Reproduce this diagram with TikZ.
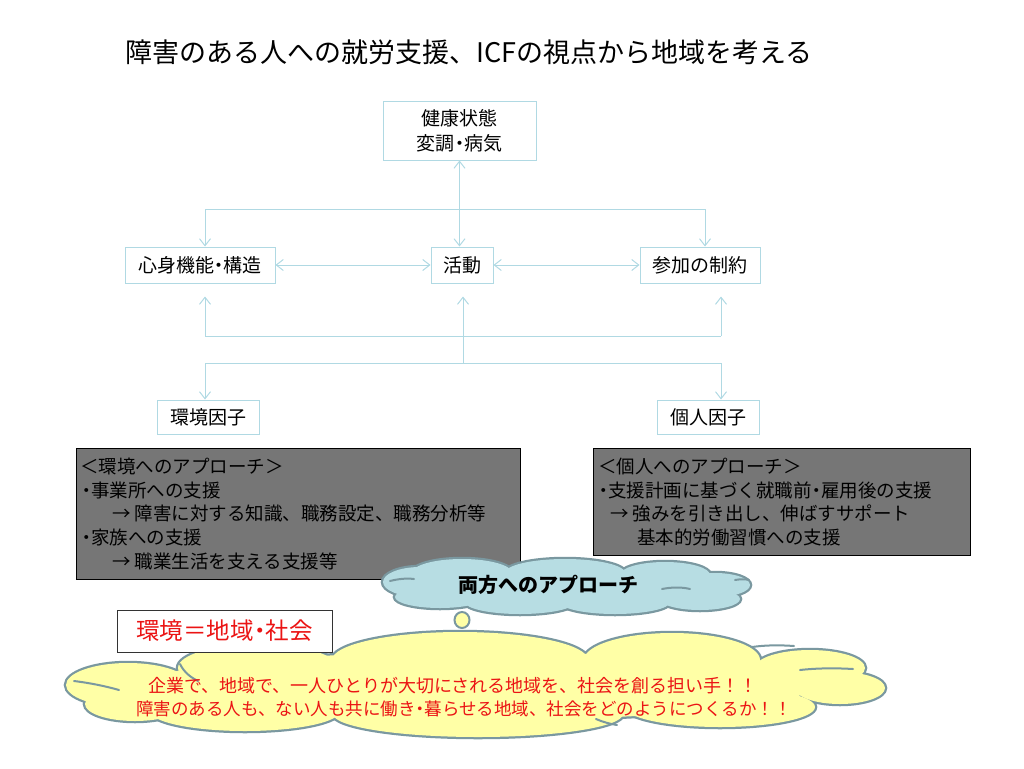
\documentclass[tikz,border=0pt]{standalone}
\usepackage{fontspec}
\setmainfont{Noto Sans CJK JP}
\usetikzlibrary{arrows.meta,shapes.geometric}
\definecolor{lb}{RGB}{176,217,227}
\definecolor{gfill}{RGB}{118,118,118}
\definecolor{cblue}{RGB}{183,221,227}
\definecolor{cline}{RGB}{122,152,160}
\definecolor{cyel}{RGB}{255,255,166}
\definecolor{myred}{RGB}{235,20,20}
\newcommand\nd{\makebox[0.5em]{・}}
\tikzset{
  icf/.style={draw=lb, line width=1pt, fill=white, inner sep=0pt, font=\fontsize{19}{25}\selectfont},
  conn/.style={draw=lb, line width=1pt},
  gbox/.style={draw=black, line width=1pt, fill=gfill, inner sep=0pt, anchor=north west},
  gtxt/.style={anchor=base west, inner sep=0pt, font=\fontsize{18.5}{22}\selectfont},
  lobeline/.style={draw=cline, line width=4.5pt},
  inarc/.style={draw=cline, line width=2pt, line cap=round},
  redtxt/.style={text=myred, inner sep=0pt},
}
\def\blobes{420/582/37/15, 462/573/50/14, 565/573/60/14, 665/575/45/13, 715/585/35/12, 700/599/40/11, 615/602/55/12, 520/602/55/12, 440/597/45/11, 565/588/160/16}
\def\ylobes{128/685/62/22, 258/668/80/24, 460/660/128/28, 672/660/88/27, 810/668/55/18, 840/688/45/16, 720/707/95/20, 478/714/145/23, 245/711/95/20, 135/704/50/17, 478/686/335/34}
\begin{document}
\begin{tikzpicture}[x=1pt,y=-1pt,>={Straight Barb[length=7pt,width=11pt]}]
\useasboundingbox (0,0) rectangle (1024,768);

% title
\node[font=\fontsize{27}{30}\selectfont] (title) at (469,52) {障害のある人への就労支援、ICFの視点から地域を考える};

% ICF boxes
\node[icf, minimum width=153pt, minimum height=59pt, align=center] (health) at (459.5,130.5) {健康状態\\変調\nd 病気};
\node[icf, minimum width=150pt, minimum height=36pt] (body) at (200,265) {心身機能\nd 構造};
\node[icf, minimum width=62pt, minimum height=36pt] (act) at (462,265) {活動};
\node[icf, minimum width=120pt, minimum height=36pt] (part) at (700,265) {参加の制約};
\node[icf, minimum width=102pt, minimum height=34pt] (env) at (208,417) {環境因子};
\node[icf, minimum width=102pt, minimum height=34pt] (pers) at (708,417) {個人因子};

% upper connectors
\coordinate (tl) at (205,209);
\coordinate (tr) at (705,209);
\draw[conn] (tl) -- (tr);
\draw[conn,->] (tl) -- (tl |- body.north);
\draw[conn,->] (tr) -- (tr |- part.north);
\draw[conn,<->] (health.south) -- (health.south |- act.north);
\draw[conn,<->] (body.east) -- (act.west);
\draw[conn,<->] (act.east) -- (part.west);

% lower connectors
\coordinate (bodyin) at ([yshift=-13pt]body.south);
\coordinate (actin) at ([yshift=-13pt]act.south);
\coordinate (partin) at ([yshift=-13pt]part.south);
\coordinate (ul) at (205,336);
\coordinate (ur) at (721,336);
\coordinate (ll) at (205,363);
\coordinate (lr) at (721,363);
\coordinate (lc) at (463,363);
\draw[conn] (ul) -- (ur);
\draw[conn] (ll) -- (lr);
\draw[conn,->] (ul) -- (ul |- bodyin);
\draw[conn,->] (ur) -- (ur |- partin);
\draw[conn,->] (lc) -- (lc |- actin);
\draw[conn,->] (ll) -- (ll |- env.north);
\draw[conn,->] (lr) -- (lr |- pers.north);

% gray boxes
\node[gbox, minimum width=444pt, minimum height=131pt] (envbox) at (76,448) {};
\node[gbox, minimum width=377pt, minimum height=107pt] (persbox) at (593,448) {};
\node[gtxt] (e1) at (80,473) {＜環境へのアプローチ＞};
\node[gtxt] (e2) at (82,497) {\nd 事業所への支援};
\node[gtxt] (e3) at (112,520) {→ 障害に対する知識、職務設定、職務分析等};
\node[gtxt] (e4) at (82,544) {\nd 家族への支援};
\node[gtxt] (e5) at (112,568) {→ 職業生活を支える支援等};
\node[gtxt] (p1) at (598,473) {＜個人へのアプローチ＞};
\node[gtxt] (p2) at (599,497) {\nd 支援計画に基づく就職前\nd 雇用後の支援};
\node[gtxt] (p3) at (610,520) {→ 強みを引き出し、伸ばすサポート};
\node[gtxt] (p4) at (637,544) {基本的労働習慣への支援};

% blue cloud
\foreach \x/\y/\a/\b in \blobes {\draw[lobeline] (\x,\y) ellipse [x radius=\a, y radius=\b];}
\foreach \x/\y/\a/\b in \blobes {\fill[cblue] (\x,\y) ellipse [x radius=\a, y radius=\b];}
\draw[inarc] (390,581) .. controls (398,579) and (406,578) .. (414,579);
\draw[inarc] (662,589) .. controls (672,587) and (682,587) .. (690,589);
\draw[inarc] (735,580) .. controls (741,579) and (745,579) .. (749,580);
\node[font=\fontsize{20}{22}\selectfont\bfseries, inner sep=0pt] (btxt) at (548,585) {両方へのアプローチ};

% yellow cloud
\foreach \x/\y/\a/\b in \ylobes {\draw[lobeline] (\x,\y) ellipse [x radius=\a, y radius=\b];}
\foreach \x/\y/\a/\b in \ylobes {\fill[cyel] (\x,\y) ellipse [x radius=\a, y radius=\b];}
\draw[inarc] (74,681) .. controls (90,683) and (105,686) .. (119,690);
\draw[inarc] (180,664) .. controls (184,672) and (190,677) .. (198,681);
\draw[inarc] (752,647) .. controls (766,645) and (780,645) .. (794,646);
\draw[inarc] (800,670) .. controls (818,668) and (836,668) .. (853,669);
\draw[inarc] (596,719) .. controls (603,722) and (610,724) .. (617,725);
\node[ellipse, draw=cline, fill=cyel, line width=2pt, minimum width=15pt, minimum height=16pt, inner sep=0pt] (bub) at (462,620) {};
\node[redtxt, font=\fontsize{18}{20}\selectfont] (r1) at (453,686) {企業で、地域で、一人ひとりが大切にされる地域を、社会を創る担い手！！};
\node[redtxt, font=\fontsize{17.5}{20}\selectfont] (r2) at (464,709) {障害のある人も、ない人も共に働き\nd 暮らせる地域、社会をどのようにつくるか！！};

% environment = society box
\node[draw=black!80, line width=1pt, fill=white, text=myred, inner sep=0pt, font=\fontsize{23.5}{26}\selectfont, minimum width=215pt, minimum height=42pt] (eqbox) at (224.5,631) {環境＝地域\nd 社会};
\end{tikzpicture}
\end{document}
